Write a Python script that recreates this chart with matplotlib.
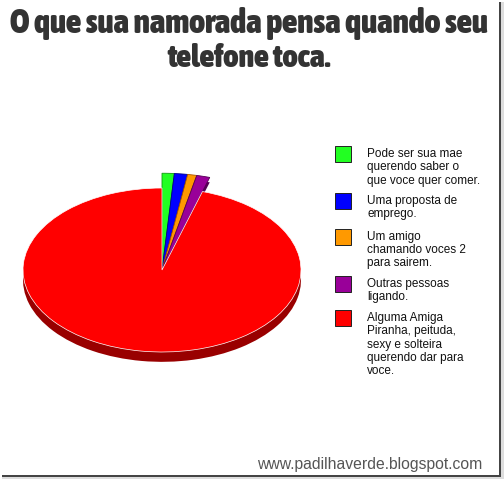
import matplotlib
matplotlib.use('Agg')
import matplotlib.pyplot as plt
from matplotlib import font_manager
from matplotlib.font_manager import FontProperties
from matplotlib.patches import Rectangle
from matplotlib.lines import Line2D

# data (percent)
labels = [
    'Pode ser sua mae\nquerendo saber o\nque voce quer comer.',
    'Uma proposta de\nemprego.',
    'Um amigo\nchamando voces 2\npara sairem.',
    'Outras pessoas\nligando.',
    'Alguma Amiga\nPiranha, peituda,\nsexy e solteira\nquerendo dar para\nvoce.',
]
values = [1.2, 1.3, 0.9, 1.3, 95.3]
colors = ['#22ff22', '#0000ff', '#ff9900', '#990099', '#ff0000']
dark_colors = ['#119911', '#000088', '#aa5500', '#550055', '#990000']

title_lines = ['O que sua namorada pensa quando seu', 'telefone toca.']
watermark = 'www.padilhaverde.blogspot.com'

W, H = 504, 479


def fx(px):
    return px / W


def fy(py):
    return 1 - py / H


def weight_num(w):
    if isinstance(w, int):
        return w
    return font_manager.weight_dict.get(w, 400)


# pick the heaviest, narrowest font there is for the Impact-like title
narrow = ('condensed', 'semi-condensed', 'extra-condensed', 'ultra-condensed')
best = None
for f in font_manager.fontManager.ttflist:
    if f.style != 'normal' or 'Mono' in f.name or 'CJK' in f.name or 'Serif' in f.name:
        continue
    wn = weight_num(f.weight)
    if wn < 700:
        continue
    score = (f.stretch in narrow or 'Condensed' in f.name or 'Narrow' in f.name, wn)
    if best is None or score > best[0]:
        best = (score, f.fname)
title_prop = FontProperties(fname=best[1]) if best else FontProperties(family='DejaVu Sans', weight='bold')
text_font = 'Liberation Sans'

fig = plt.figure(figsize=(W / 100, H / 100), dpi=100)
fig.patch.set_facecolor('white')

# pie axes: centre at (162, 270) px, 139 px wide radius, 82 px tall radius
cx, cy, rx, ry = 162, 270, 139, 82
x0, x1, y0, y1 = -1.15, 1.15, -1.4, 1.3
ax = fig.add_axes([fx(cx + x0 * rx), fy(cy - y0 * ry), (x1 - x0) * rx / W, (y1 - y0) * ry / H])

rim = 0.12
big_r = 1.18
shadow, _ = ax.pie(values, colors=dark_colors, startangle=90, counterclock=False,
                   center=(0, -rim), wedgeprops=dict(linewidth=0))
top, _ = ax.pie(values, colors=colors, startangle=90, counterclock=False,
                wedgeprops=dict(linewidth=0))
for i in range(4):
    shadow[i].set_radius(big_r)
    shadow[i].set_center((0, -0.06))
    top[i].set_radius(big_r)
    top[i].set_edgecolor(dark_colors[i])
    top[i].set_linewidth(0.6)
top[4].set_edgecolor('white')
top[4].set_linewidth(0.5)
ax.set_aspect('auto')
ax.set_xlim(x0, x1)
ax.set_ylim(y0, y1)
ax.axis('off')

# title
renderer = fig.canvas.get_renderer()
title_specs = [(title_lines[0], 23.5, 478), (title_lines[1], 58.5, 163)]
for txt, ypx, target_w in title_specs:
    t = fig.text(fx(249), fy(ypx), txt, ha='center', va='center', fontsize=20,
                 fontproperties=title_prop, color='#333333')
    t.set_fontsize(20)
    w = t.get_window_extent(renderer).width
    t.set_fontsize(20 * target_w / w)

# legend, drawn by hand so the box lines up with the first text line
legend_rows = [154, 201, 236.5, 284, 318]
line_h = 13.3
for lab, col, ypx in zip(labels, colors, legend_rows):
    fig.add_artist(Rectangle((fx(335), fy(ypx + 8)), 16 / W, 16 / H,
                             transform=fig.transFigure, facecolor=col,
                             edgecolor='#222222', linewidth=0.7))
    for k, part in enumerate(lab.split('\n')):
        fig.text(fx(367), fy(ypx + k * line_h), part, ha='left', va='center',
                 fontsize=8.5, family=text_font, color='#111111')

# watermark
t = fig.text(fx(482), fy(465), watermark, ha='right', va='center', fontsize=11,
             family=text_font, color='#555555')
w = t.get_window_extent(renderer).width
t.set_fontsize(11 * 225 / w)

# frame shadow on the right and bottom
for lw, col, off in [(3, '#dddddd', 2), (2, '#444444', 0)]:
    fig.add_artist(Line2D([fx(3), fx(500 + off)], [fy(476 + off), fy(476 + off)],
                          transform=fig.transFigure, color=col, linewidth=lw * 0.72))
    fig.add_artist(Line2D([fx(500 + off), fx(500 + off)], [fy(3), fy(476 + off)],
                          transform=fig.transFigure, color=col, linewidth=lw * 0.72))

fig.savefig('out.png', dpi=100, facecolor='white')
